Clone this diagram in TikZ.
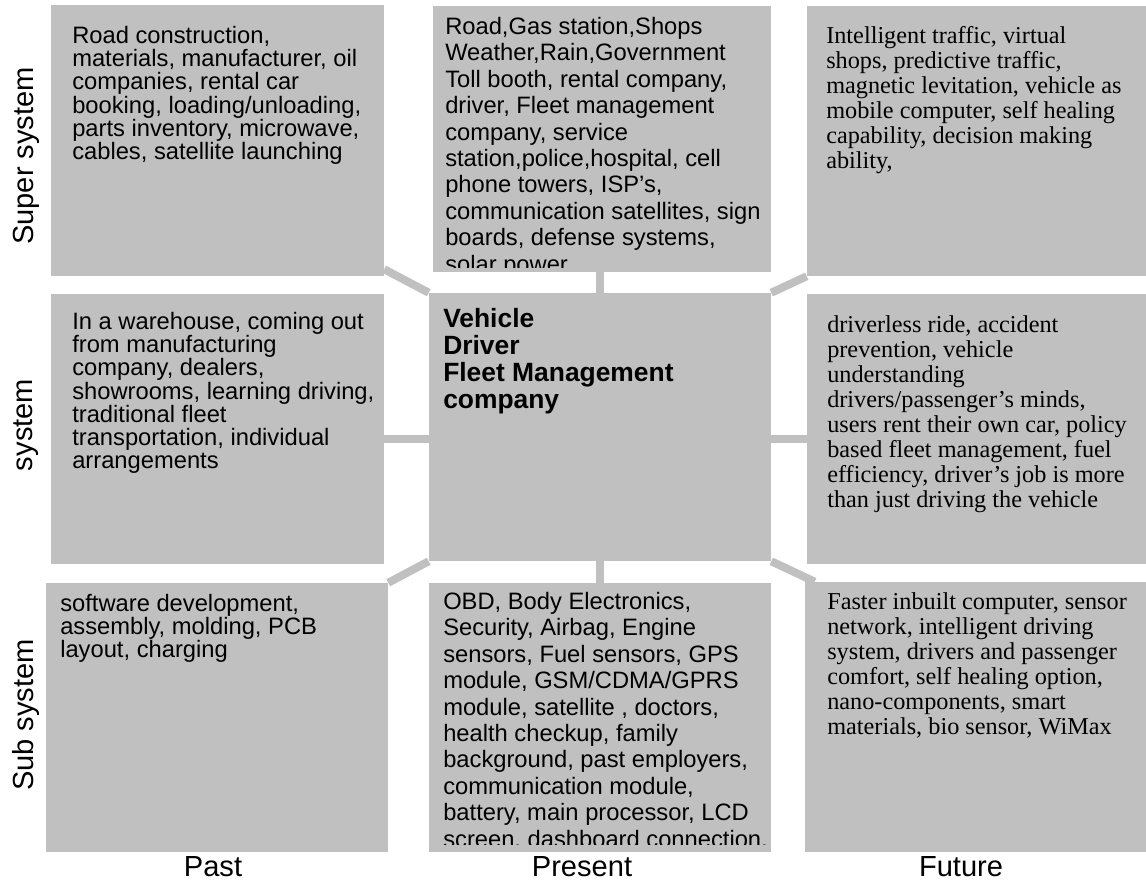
\documentclass[tikz,border=0pt]{standalone}
\usepackage{fontspec}
\setmainfont{Liberation Sans}
\newfontfamily\timesfont{Liberation Serif}
\usetikzlibrary{fit,calc,backgrounds}
\definecolor{boxgray}{RGB}{192,192,192}
\tikzset{
  cell/.style={fill=boxgray, inner sep=0pt},
  link/.style={draw=boxgray, line width=6pt},
  sanstext/.style={anchor=north west, inner sep=0pt, align=left, font=\fontsize{17.8}{17.4}\selectfont},
  serftext/.style={anchor=north west, inner sep=0pt, align=left, font=\timesfont\fontsize{18.2}{18.75}\selectfont},
  boldtext/.style={anchor=north west, inner sep=0pt, align=left, font=\fontsize{19.8}{20.25}\selectfont\bfseries},
  axislabel/.style={inner sep=0pt, font=\fontsize{21.8}{25}\selectfont}
}
\begin{document}
\begin{tikzpicture}[x=0.75pt,y=0.75pt,yscale=-1,xscale=1]
\useasboundingbox (0,0) rectangle (1146,882);

% Boxes
\node[cell, fit={(51,5) (384,276)}] (tl) {};
\node[cell, fit={(433,6) (771,272)}] (tm) {};
\node[cell, fit={(807,6) (1146,276)}] (tr) {};
\node[cell, fit={(51,294) (384,564)}] (ml) {};
\node[cell, fit={(429,293) (771,561)}] (ctr) {};
\node[cell, fit={(807,294) (1146,564)}] (mr) {};
\node[cell, fit={(46,583) (388,852)}] (bl) {};
\node[cell, fit={(429,583) (771,852)}] (bm) {};
\node[cell, fit={(805,582) (1146,852)}] (br) {};

%Straight Lines
\begin{scope}[on background layer]
\coordinate (lm) at ($(ml.east)+(0,10)$);
\coordinate (rm) at ($(mr.west)+(0,10)$);
\draw[link] (lm) -- (lm -| ctr.west);
\draw[link] (rm) -- (rm -| ctr.east);
\draw[link] (ctr.north) -- (ctr.north |- tm.south);
\draw[link] (ctr.south) -- (ctr.south |- bm.north);
\draw[link] ($(tl.south east)+(0,-7)$) -- (ctr.north west);
\draw[link] (ctr.north east) -- (tr.south west);
\draw[link] (ctr.south west) -- (bl.north east);
\draw[link] (ctr.south east) -- ($(br.north west)+(10,0)$);
\end{scope}

% Text Node
\node[sanstext] (tltext) at (72,26) {Road construction,\\materials, manufacturer, oil\\companies, rental car\\booking, loading/unloading,\\parts inventory, microwave,\\cables, satellite launching};
% Text Node
\begin{scope}
\clip ($(tm.south west)+(0,-5)$) rectangle (tm.north east);
\node[sanstext, font=\fontsize{17.8}{19.8}\selectfont] (tmtext) at (445,17) {Road,Gas station,Shops\\Weather,Rain,Government\\Toll booth, rental company,\\driver, Fleet management\\company, service\\station,police,hospital, cell\\phone towers, ISP’s,\\communication satellites, sign\\boards, defense systems,\\solar power};
\end{scope}
% Text Node
\node[serftext] (trtext) at (826,26) {Intelligent traffic, virtual\\shops, predictive traffic,\\magnetic levitation, vehicle as\\mobile computer, self healing\\capability, decision making\\ability,};
% Text Node
\node[sanstext] (mltext) at (72,312) {In a warehouse, coming out\\from manufacturing\\company, dealers,\\showrooms, learning driving,\\traditional fleet\\transportation, individual\\arrangements};
% Text Node
\node[boldtext] (ctrtext) at (443,308) {Vehicle\\Driver\\Fleet Management\\company};
% Text Node
\node[serftext] (mrtext) at (827,315) {driverless ride, accident\\prevention, vehicle\\understanding\\drivers/passenger’s minds,\\users rent their own car, policy\\based fleet management, fuel\\efficiency, driver’s job is more\\than just driving the vehicle};
% Text Node
\node[sanstext] (bltext) at (60,594) {software development,\\assembly, molding, PCB\\layout, charging};
% Text Node
\begin{scope}
\clip ($(bm.south west)+(0,-8)$) rectangle (bm.north east);
\node[sanstext, font=\fontsize{17.8}{19.8}\selectfont] (bmtext) at (443,592) {OBD, Body Electronics,\\Security, Airbag, Engine\\sensors, Fuel sensors, GPS\\module, GSM/CDMA/GPRS\\module, satellite , doctors,\\health checkup, family\\background, past employers,\\communication module,\\battery, main processor, LCD\\screen, dashboard connection,};
\end{scope}
% Text Node
\node[serftext] (brtext) at (827,592) {Faster inbuilt computer, sensor\\network, intelligent driving\\system, drivers and passenger\\comfort, self healing option,\\nano-components, smart\\materials, bio sensor, WiMax};

% Text Node
\node[axislabel, rotate=90] (super) at (26,156) {Super system};
\node[axislabel, rotate=90] (sys) at (26,425) {system};
\node[axislabel, rotate=90] (sub) at (26,715) {Sub system};
% Text Node
\node[axislabel, anchor=base] (past) at (213,876) {Past};
\node[axislabel, anchor=base] (present) at (582,876) {Present};
\node[axislabel, anchor=base] (future) at (961,876) {Future};

\end{tikzpicture}
\end{document}
